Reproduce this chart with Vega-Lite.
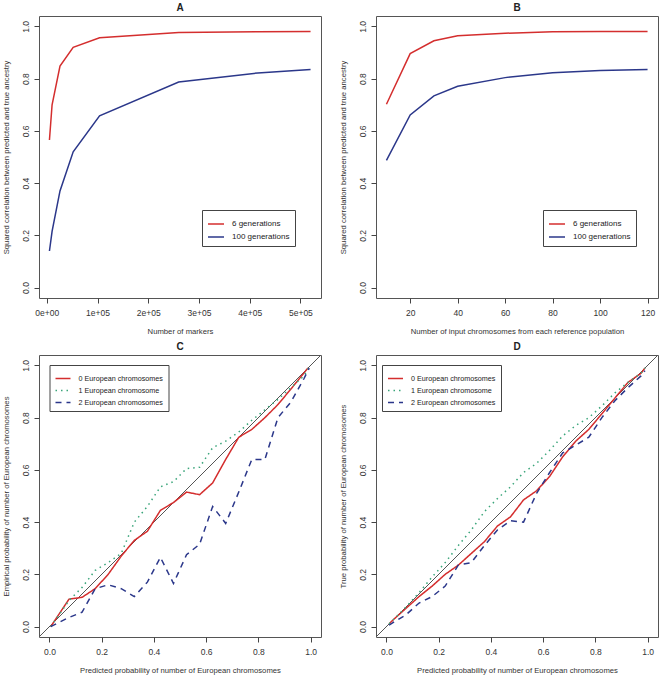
{
  "$schema": "https://vega.github.io/schema/vega-lite/v6.json",
  "padding": {"left": 2, "top": 2, "right": 2, "bottom": 2},
  "bounds": "flush",
  "columns": 2,
  "spacing": {"row": 57, "column": 55},
  "config": {
    "font": "Liberation Sans",
    "view": {"stroke": "#555", "strokeWidth": 1},
    "axis": {
      "grid": false, "domain": false, "tickSize": 5, "tickColor": "#444",
      "labelFontSize": 8.5, "labelColor": "#333", "titleFontSize": 7.7,
      "titleFontWeight": "normal", "titleColor": "#333", "labelFlush": false
    },
    "axisX": {"labelPadding": 5, "titlePadding": 11},
    "axisY": {"labelAngle": -90, "labelPadding": 3.5, "titlePadding": 11},
    "title": {"fontSize": 10, "fontWeight": "bold", "offset": 3, "color": "#222"},
    "legend": {"labelColor": "#222", "labelOffset": 7, "padding": 5, "strokeColor": "#444", "fillColor": "white", "symbolStrokeWidth": 1.5}
  },
  "resolve": {
    "scale": {"color": "independent", "strokeDash": "independent"},
    "legend": {"color": "independent", "strokeDash": "independent"}
  },
  "datasets": {
    "markers": [
      {"markers": 5200, "r2": 0.565, "gen": "6 generations"},
      {"markers": 10400, "r2": 0.70, "gen": "6 generations"},
      {"markers": 26000, "r2": 0.848, "gen": "6 generations"},
      {"markers": 52000, "r2": 0.92, "gen": "6 generations"},
      {"markers": 104000, "r2": 0.957, "gen": "6 generations"},
      {"markers": 260000, "r2": 0.977, "gen": "6 generations"},
      {"markers": 416000, "r2": 0.980, "gen": "6 generations"},
      {"markers": 520000, "r2": 0.981, "gen": "6 generations"},
      {"markers": 5200, "r2": 0.14, "gen": "100 generations"},
      {"markers": 10400, "r2": 0.215, "gen": "100 generations"},
      {"markers": 26000, "r2": 0.37, "gen": "100 generations"},
      {"markers": 52000, "r2": 0.52, "gen": "100 generations"},
      {"markers": 104000, "r2": 0.658, "gen": "100 generations"},
      {"markers": 260000, "r2": 0.787, "gen": "100 generations"},
      {"markers": 416000, "r2": 0.822, "gen": "100 generations"},
      {"markers": 520000, "r2": 0.835, "gen": "100 generations"}
    ],
    "chromosomes": [
      {"n": 10, "r2": 0.702, "gen": "6 generations"},
      {"n": 20, "r2": 0.896, "gen": "6 generations"},
      {"n": 30, "r2": 0.945, "gen": "6 generations"},
      {"n": 40, "r2": 0.964, "gen": "6 generations"},
      {"n": 60, "r2": 0.974, "gen": "6 generations"},
      {"n": 80, "r2": 0.980, "gen": "6 generations"},
      {"n": 100, "r2": 0.981, "gen": "6 generations"},
      {"n": 120, "r2": 0.981, "gen": "6 generations"},
      {"n": 10, "r2": 0.487, "gen": "100 generations"},
      {"n": 20, "r2": 0.661, "gen": "100 generations"},
      {"n": 30, "r2": 0.734, "gen": "100 generations"},
      {"n": 40, "r2": 0.771, "gen": "100 generations"},
      {"n": 60, "r2": 0.804, "gen": "100 generations"},
      {"n": 80, "r2": 0.823, "gen": "100 generations"},
      {"n": 100, "r2": 0.831, "gen": "100 generations"},
      {"n": 120, "r2": 0.835, "gen": "100 generations"}
    ],
    "diag": [
      {"p": -0.04, "q": -0.04},
      {"p": 1.04, "q": 1.04}
    ],
    "calC": [
      {"p": 0.005, "q": 0.0, "k": "0 European chromosomes"},
      {"p": 0.075, "q": 0.105, "k": "0 European chromosomes"},
      {"p": 0.125, "q": 0.112, "k": "0 European chromosomes"},
      {"p": 0.175, "q": 0.145, "k": "0 European chromosomes"},
      {"p": 0.225, "q": 0.20, "k": "0 European chromosomes"},
      {"p": 0.275, "q": 0.27, "k": "0 European chromosomes"},
      {"p": 0.325, "q": 0.33, "k": "0 European chromosomes"},
      {"p": 0.375, "q": 0.365, "k": "0 European chromosomes"},
      {"p": 0.425, "q": 0.445, "k": "0 European chromosomes"},
      {"p": 0.475, "q": 0.475, "k": "0 European chromosomes"},
      {"p": 0.525, "q": 0.515, "k": "0 European chromosomes"},
      {"p": 0.575, "q": 0.505, "k": "0 European chromosomes"},
      {"p": 0.625, "q": 0.55, "k": "0 European chromosomes"},
      {"p": 0.675, "q": 0.64, "k": "0 European chromosomes"},
      {"p": 0.725, "q": 0.725, "k": "0 European chromosomes"},
      {"p": 0.775, "q": 0.755, "k": "0 European chromosomes"},
      {"p": 0.825, "q": 0.80, "k": "0 European chromosomes"},
      {"p": 0.875, "q": 0.85, "k": "0 European chromosomes"},
      {"p": 0.925, "q": 0.91, "k": "0 European chromosomes"},
      {"p": 0.99, "q": 0.99, "k": "0 European chromosomes"},
      {"p": 0.005, "q": 0.0, "k": "1 European chromosome"},
      {"p": 0.075, "q": 0.10, "k": "1 European chromosome"},
      {"p": 0.125, "q": 0.15, "k": "1 European chromosome"},
      {"p": 0.175, "q": 0.215, "k": "1 European chromosome"},
      {"p": 0.225, "q": 0.245, "k": "1 European chromosome"},
      {"p": 0.275, "q": 0.28, "k": "1 European chromosome"},
      {"p": 0.325, "q": 0.40, "k": "1 European chromosome"},
      {"p": 0.375, "q": 0.46, "k": "1 European chromosome"},
      {"p": 0.425, "q": 0.535, "k": "1 European chromosome"},
      {"p": 0.475, "q": 0.555, "k": "1 European chromosome"},
      {"p": 0.525, "q": 0.605, "k": "1 European chromosome"},
      {"p": 0.575, "q": 0.61, "k": "1 European chromosome"},
      {"p": 0.625, "q": 0.685, "k": "1 European chromosome"},
      {"p": 0.675, "q": 0.71, "k": "1 European chromosome"},
      {"p": 0.725, "q": 0.745, "k": "1 European chromosome"},
      {"p": 0.775, "q": 0.79, "k": "1 European chromosome"},
      {"p": 0.825, "q": 0.83, "k": "1 European chromosome"},
      {"p": 0.875, "q": 0.87, "k": "1 European chromosome"},
      {"p": 0.925, "q": 0.915, "k": "1 European chromosome"},
      {"p": 0.975, "q": 0.96, "k": "1 European chromosome"},
      {"p": 0.995, "q": 0.995, "k": "1 European chromosome"},
      {"p": 0.005, "q": 0.0, "k": "2 European chromosomes"},
      {"p": 0.075, "q": 0.035, "k": "2 European chromosomes"},
      {"p": 0.125, "q": 0.055, "k": "2 European chromosomes"},
      {"p": 0.175, "q": 0.145, "k": "2 European chromosomes"},
      {"p": 0.225, "q": 0.16, "k": "2 European chromosomes"},
      {"p": 0.275, "q": 0.145, "k": "2 European chromosomes"},
      {"p": 0.325, "q": 0.115, "k": "2 European chromosomes"},
      {"p": 0.375, "q": 0.17, "k": "2 European chromosomes"},
      {"p": 0.425, "q": 0.265, "k": "2 European chromosomes"},
      {"p": 0.475, "q": 0.165, "k": "2 European chromosomes"},
      {"p": 0.525, "q": 0.275, "k": "2 European chromosomes"},
      {"p": 0.575, "q": 0.315, "k": "2 European chromosomes"},
      {"p": 0.625, "q": 0.46, "k": "2 European chromosomes"},
      {"p": 0.675, "q": 0.395, "k": "2 European chromosomes"},
      {"p": 0.725, "q": 0.515, "k": "2 European chromosomes"},
      {"p": 0.775, "q": 0.64, "k": "2 European chromosomes"},
      {"p": 0.825, "q": 0.64, "k": "2 European chromosomes"},
      {"p": 0.875, "q": 0.80, "k": "2 European chromosomes"},
      {"p": 0.925, "q": 0.86, "k": "2 European chromosomes"},
      {"p": 0.975, "q": 0.95, "k": "2 European chromosomes"},
      {"p": 0.995, "q": 0.99, "k": "2 European chromosomes"}
    ],
    "calD": [
      {"p": 0.01, "q": 0.01, "k": "0 European chromosomes"},
      {"p": 0.025, "q": 0.025, "k": "0 European chromosomes"},
      {"p": 0.075, "q": 0.07, "k": "0 European chromosomes"},
      {"p": 0.125, "q": 0.115, "k": "0 European chromosomes"},
      {"p": 0.175, "q": 0.155, "k": "0 European chromosomes"},
      {"p": 0.225, "q": 0.20, "k": "0 European chromosomes"},
      {"p": 0.275, "q": 0.235, "k": "0 European chromosomes"},
      {"p": 0.325, "q": 0.28, "k": "0 European chromosomes"},
      {"p": 0.375, "q": 0.325, "k": "0 European chromosomes"},
      {"p": 0.425, "q": 0.385, "k": "0 European chromosomes"},
      {"p": 0.475, "q": 0.42, "k": "0 European chromosomes"},
      {"p": 0.525, "q": 0.485, "k": "0 European chromosomes"},
      {"p": 0.575, "q": 0.52, "k": "0 European chromosomes"},
      {"p": 0.625, "q": 0.575, "k": "0 European chromosomes"},
      {"p": 0.675, "q": 0.65, "k": "0 European chromosomes"},
      {"p": 0.725, "q": 0.71, "k": "0 European chromosomes"},
      {"p": 0.775, "q": 0.755, "k": "0 European chromosomes"},
      {"p": 0.825, "q": 0.815, "k": "0 European chromosomes"},
      {"p": 0.875, "q": 0.875, "k": "0 European chromosomes"},
      {"p": 0.925, "q": 0.935, "k": "0 European chromosomes"},
      {"p": 0.975, "q": 0.97, "k": "0 European chromosomes"},
      {"p": 0.99, "q": 0.99, "k": "0 European chromosomes"},
      {"p": 0.01, "q": 0.01, "k": "1 European chromosome"},
      {"p": 0.025, "q": 0.025, "k": "1 European chromosome"},
      {"p": 0.075, "q": 0.075, "k": "1 European chromosome"},
      {"p": 0.125, "q": 0.13, "k": "1 European chromosome"},
      {"p": 0.175, "q": 0.19, "k": "1 European chromosome"},
      {"p": 0.225, "q": 0.245, "k": "1 European chromosome"},
      {"p": 0.275, "q": 0.31, "k": "1 European chromosome"},
      {"p": 0.325, "q": 0.37, "k": "1 European chromosome"},
      {"p": 0.375, "q": 0.44, "k": "1 European chromosome"},
      {"p": 0.425, "q": 0.49, "k": "1 European chromosome"},
      {"p": 0.475, "q": 0.535, "k": "1 European chromosome"},
      {"p": 0.525, "q": 0.59, "k": "1 European chromosome"},
      {"p": 0.575, "q": 0.625, "k": "1 European chromosome"},
      {"p": 0.625, "q": 0.675, "k": "1 European chromosome"},
      {"p": 0.675, "q": 0.73, "k": "1 European chromosome"},
      {"p": 0.725, "q": 0.77, "k": "1 European chromosome"},
      {"p": 0.775, "q": 0.80, "k": "1 European chromosome"},
      {"p": 0.825, "q": 0.845, "k": "1 European chromosome"},
      {"p": 0.875, "q": 0.895, "k": "1 European chromosome"},
      {"p": 0.925, "q": 0.935, "k": "1 European chromosome"},
      {"p": 0.975, "q": 0.97, "k": "1 European chromosome"},
      {"p": 0.99, "q": 0.99, "k": "1 European chromosome"},
      {"p": 0.01, "q": 0.005, "k": "2 European chromosomes"},
      {"p": 0.025, "q": 0.015, "k": "2 European chromosomes"},
      {"p": 0.075, "q": 0.045, "k": "2 European chromosomes"},
      {"p": 0.125, "q": 0.09, "k": "2 European chromosomes"},
      {"p": 0.175, "q": 0.115, "k": "2 European chromosomes"},
      {"p": 0.225, "q": 0.155, "k": "2 European chromosomes"},
      {"p": 0.275, "q": 0.235, "k": "2 European chromosomes"},
      {"p": 0.325, "q": 0.245, "k": "2 European chromosomes"},
      {"p": 0.375, "q": 0.31, "k": "2 European chromosomes"},
      {"p": 0.425, "q": 0.37, "k": "2 European chromosomes"},
      {"p": 0.475, "q": 0.405, "k": "2 European chromosomes"},
      {"p": 0.525, "q": 0.40, "k": "2 European chromosomes"},
      {"p": 0.575, "q": 0.51, "k": "2 European chromosomes"},
      {"p": 0.625, "q": 0.59, "k": "2 European chromosomes"},
      {"p": 0.675, "q": 0.665, "k": "2 European chromosomes"},
      {"p": 0.725, "q": 0.695, "k": "2 European chromosomes"},
      {"p": 0.775, "q": 0.725, "k": "2 European chromosomes"},
      {"p": 0.825, "q": 0.80, "k": "2 European chromosomes"},
      {"p": 0.875, "q": 0.865, "k": "2 European chromosomes"},
      {"p": 0.925, "q": 0.915, "k": "2 European chromosomes"},
      {"p": 0.975, "q": 0.96, "k": "2 European chromosomes"},
      {"p": 0.99, "q": 0.98, "k": "2 European chromosomes"}
    ]
  },
  "concat": [
    {
      "title": "A",
      "width": 282, "height": 282,
      "data": {"name": "markers"},
      "mark": {"type": "line", "strokeWidth": 1.5},
      "encoding": {
        "x": {"field": "markers", "type": "quantitative", "title": "Number of markers",
              "scale": {"domain": [-15392, 540592], "nice": false, "zero": false},
              "axis": {"values": [0, 100000, 200000, 300000, 400000, 500000],
                       "labelExpr": "datum.value == 0 ? '0e+00' : format(datum.value / 100000, 'd') + 'e+05'"}},
        "y": {"field": "r2", "type": "quantitative", "title": "Squared correlation between predicted and true ancestry",
              "scale": {"domain": [-0.04, 1.04], "nice": false, "zero": false},
              "axis": {"values": [0, 0.2, 0.4, 0.6, 0.8, 1.0], "format": ".1f"}},
        "color": {"field": "gen", "type": "nominal",
                  "scale": {"domain": ["6 generations", "100 generations"], "range": ["#d42e2e", "#2b378a"]},
                  "legend": {"title": null, "orient": "none", "legendX": 163, "legendY": 194, "symbolSize": 256, "rowPadding": -4.4, "labelFontSize": 8}}
      }
    },
    {
      "title": "B",
      "width": 282, "height": 282,
      "data": {"name": "chromosomes"},
      "mark": {"type": "line", "strokeWidth": 1.5},
      "encoding": {
        "x": {"field": "n", "type": "quantitative", "title": "Number of input chromosomes from each reference population",
              "scale": {"domain": [5.6, 124.4], "nice": false, "zero": false},
              "axis": {"values": [20, 40, 60, 80, 100, 120]}},
        "y": {"field": "r2", "type": "quantitative", "title": "Squared correlation between predicted and true ancestry",
              "scale": {"domain": [-0.04, 1.04], "nice": false, "zero": false},
              "axis": {"values": [0, 0.2, 0.4, 0.6, 0.8, 1.0], "format": ".1f"}},
        "color": {"field": "gen", "type": "nominal",
                  "scale": {"domain": ["6 generations", "100 generations"], "range": ["#d42e2e", "#2b378a"]},
                  "legend": {"title": null, "orient": "none", "legendX": 167, "legendY": 194, "symbolSize": 256, "rowPadding": -4.4, "labelFontSize": 8}}
      }
    },
    {
      "title": "C",
      "width": 282, "height": 282,
      "layer": [
        {
          "data": {"name": "diag"},
          "mark": {"type": "line", "color": "#555", "strokeWidth": 1, "clip": true},
          "encoding": {
            "x": {"field": "p", "type": "quantitative"},
            "y": {"field": "q", "type": "quantitative"}
          }
        },
        {
          "data": {"name": "calC"},
          "mark": {"type": "line", "strokeWidth": 1.5},
          "encoding": {
            "x": {"field": "p", "type": "quantitative"},
            "y": {"field": "q", "type": "quantitative"},
            "color": {"field": "k", "type": "nominal",
                      "scale": {"domain": ["0 European chromosomes", "1 European chromosome", "2 European chromosomes"], "range": ["#d42e2e", "#3aa57a", "#2b378a"]},
                      "legend": {"title": null, "orient": "none", "legendX": 10.5, "legendY": 10, "symbolSize": 225, "rowPadding": -3, "labelFontSize": 7.2}},
            "strokeDash": {"field": "k", "type": "nominal",
                      "scale": {"domain": ["0 European chromosomes", "1 European chromosome", "2 European chromosomes"], "range": [[1, 0], [1.5, 4], [6, 5]]},
                      "legend": {"title": null, "orient": "none", "legendX": 10.5, "legendY": 10, "symbolSize": 225, "rowPadding": -3, "labelFontSize": 7.2}}
          }
        }
      ],
      "encoding": {
        "x": {"field": "p", "type": "quantitative", "title": "Predicted probability of number of European chromosomes",
              "scale": {"domain": [-0.04, 1.04], "nice": false, "zero": false},
              "axis": {"values": [0, 0.2, 0.4, 0.6, 0.8, 1.0], "format": ".1f"}},
        "y": {"field": "q", "type": "quantitative", "title": "Empirical probability of number of European chromosomes",
              "scale": {"domain": [-0.04, 1.04], "nice": false, "zero": false},
              "axis": {"values": [0, 0.2, 0.4, 0.6, 0.8, 1.0], "format": ".1f"}}
      }
    },
    {
      "title": "D",
      "width": 282, "height": 282,
      "layer": [
        {
          "data": {"name": "diag"},
          "mark": {"type": "line", "color": "#555", "strokeWidth": 1, "clip": true},
          "encoding": {
            "x": {"field": "p", "type": "quantitative"},
            "y": {"field": "q", "type": "quantitative"}
          }
        },
        {
          "data": {"name": "calD"},
          "mark": {"type": "line", "strokeWidth": 1.5},
          "encoding": {
            "x": {"field": "p", "type": "quantitative"},
            "y": {"field": "q", "type": "quantitative"},
            "color": {"field": "k", "type": "nominal",
                      "scale": {"domain": ["0 European chromosomes", "1 European chromosome", "2 European chromosomes"], "range": ["#d42e2e", "#3aa57a", "#2b378a"]},
                      "legend": {"title": null, "orient": "none", "legendX": 6, "legendY": 10, "symbolSize": 225, "rowPadding": -3, "labelFontSize": 7.2}},
            "strokeDash": {"field": "k", "type": "nominal",
                      "scale": {"domain": ["0 European chromosomes", "1 European chromosome", "2 European chromosomes"], "range": [[1, 0], [1.5, 4], [6, 5]]},
                      "legend": {"title": null, "orient": "none", "legendX": 6, "legendY": 10, "symbolSize": 225, "rowPadding": -3, "labelFontSize": 7.2}}
          }
        }
      ],
      "encoding": {
        "x": {"field": "p", "type": "quantitative", "title": "Predicted probability of number of European chromosomes",
              "scale": {"domain": [-0.04, 1.04], "nice": false, "zero": false},
              "axis": {"values": [0, 0.2, 0.4, 0.6, 0.8, 1.0], "format": ".1f"}},
        "y": {"field": "q", "type": "quantitative", "title": "True probability of number of European chromosomes",
              "scale": {"domain": [-0.04, 1.04], "nice": false, "zero": false},
              "axis": {"values": [0, 0.2, 0.4, 0.6, 0.8, 1.0], "format": ".1f"}}
      }
    }
  ]
}
